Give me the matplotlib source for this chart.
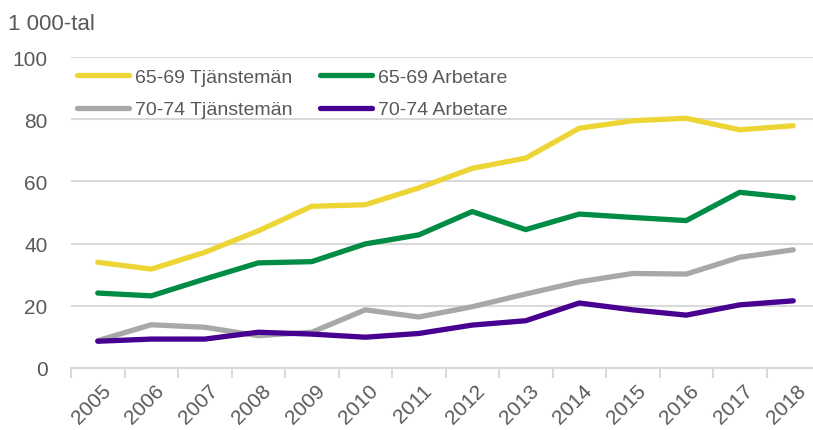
import numpy as np
import matplotlib.pyplot as plt
import matplotlib.transforms as mtransforms

years = ['2005', '2006', '2007', '2008', '2009', '2010', '2011',
         '2012', '2013', '2014', '2015', '2016', '2017', '2018']
tj_65_69 = [34.0, 31.8, 37.2, 44.1, 52.0, 52.5, 57.9, 64.2, 67.5, 77.1, 79.5, 80.3, 76.6, 77.9]
arb_65_69 = [24.1, 23.2, 28.6, 33.8, 34.2, 39.9, 42.8, 50.3, 44.5, 49.5, 48.4, 47.4, 56.5, 54.7]
tj_70_74 = [8.8, 13.9, 13.1, 10.4, 11.5, 18.7, 16.4, 19.7, 23.8, 27.7, 30.4, 30.2, 35.6, 38.0]
arb_70_74 = [8.6, 9.3, 9.3, 11.5, 10.9, 9.9, 11.1, 13.8, 15.2, 20.9, 18.7, 17.0, 20.3, 21.6]

plt.rcParams['font.family'] = ['Liberation Sans', 'DejaVu Sans']

txt = '#595959'
fig = plt.figure(figsize=(8.13, 4.31), dpi=100)
ax = fig.add_axes([71 / 813, 62 / 431, 749 / 813, 311 / 431])

x = np.arange(len(years))
l1, = ax.plot(x, tj_65_69, color='#EDD535', lw=3.8, label='65-69 Tjänstemän', solid_capstyle='round')
l2, = ax.plot(x, arb_65_69, color='#008C45', lw=3.8, label='65-69 Arbetare', solid_capstyle='round')
l3, = ax.plot(x, tj_70_74, color='#A8A8A8', lw=3.8, label='70-74 Tjänstemän', solid_capstyle='round')
l4, = ax.plot(x, arb_70_74, color='#470090', lw=3.8, label='70-74 Arbetare', solid_capstyle='round')

ax.set_xlim(-0.5, 13.5)
ax.set_ylim(0, 100)
ax.set_yticks(range(0, 101, 20))
ax.yaxis.grid(True, color='#D9D9D9', lw=1.5)
ax.set_axisbelow(True)
ax.tick_params(axis='y', length=0, labelsize=15, labelcolor=txt, pad=17)

ax.set_xticks(x)
ax.set_xticklabels(years, rotation=45, ha='right', va='center', rotation_mode='anchor')
ax.set_xticks(np.arange(-0.5, 13.6, 1), minor=True)
ax.tick_params(axis='x', which='major', length=0, labelsize=15, labelcolor=txt, pad=14)
ax.tick_params(axis='x', which='minor', length=7, width=1.5, color='#D9D9D9')
shift = mtransforms.ScaledTranslation(10 / 100, 0, fig.dpi_scale_trans)
for lab in ax.get_xticklabels():
    lab.set_transform(lab.get_transform() + shift)

for s in ['top', 'right', 'left']:
    ax.spines[s].set_visible(False)
ax.spines['bottom'].set_color('#D9D9D9')
ax.spines['bottom'].set_linewidth(1.5)

leg = ax.legend([l1, l3, l2, l4], [l1.get_label(), l3.get_label(), l2.get_label(), l4.get_label()],
                ncol=2, loc='upper left', bbox_to_anchor=(-0.008, 1.0), frameon=False,
                fontsize=14, handlelength=2.7, handletextpad=0.3, columnspacing=1.4,
                labelspacing=0.75, borderaxespad=0.2)
for t in leg.get_texts():
    t.set_color(txt)

fig.text(8 / 813, 1 - 25 / 431, '1 000-tal', fontsize=16, color=txt, va='center')

fig.savefig('out.png', dpi=100)
